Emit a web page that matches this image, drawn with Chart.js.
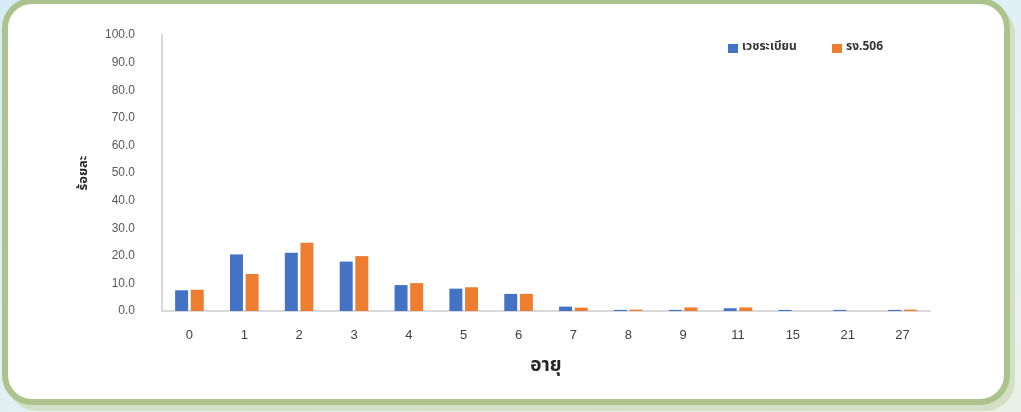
<!DOCTYPE html>
<html>
<head>
<meta charset="utf-8">
<script src="https://cdn.jsdelivr.net/npm/chart.js@4/dist/chart.umd.min.js"></script>
<style>
  html, body { margin: 0; padding: 0; }
  body {
    width: 1021px; height: 412px; overflow: hidden; position: relative;
    background: linear-gradient(160deg, #d6ecf6 0%, #e4f1f4 60%, #e9f1e6 100%);
  }
  .card {
    position: absolute; left: 2px; top: -2px; width: 996px; height: 395px;
    border: 6px solid #adc38d; border-radius: 30px; background: #fff;
    box-shadow: 5px 6px 0 #d3e0c6;
  }
  #chart { position: absolute; left: 0; top: 0; }
</style>
</head>
<body>
<div class="card"></div>
<canvas id="chart" width="1021" height="412"></canvas>
<script>
const ages = ['0', '1', '2', '3', '4', '5', '6', '7', '8', '9', '11', '15', '21', '27'];
const medicalRecords = [7.5, 20.5, 21.1, 17.9, 9.4, 8.1, 6.2, 1.6, 0.4, 0.4, 1.0, 0.4, 0.4, 0.4];
const report506 = [7.7, 13.4, 24.7, 19.9, 10.1, 8.6, 6.2, 1.2, 0.5, 1.3, 1.3, 0, 0, 0.5];
const seriesNames = ['เวชระเบียน', 'รง.506'];
const seriesColors = ['#4472c4', '#ed7d31'];

const thaiFont = "'Noto Sans Thai', 'Noto Sans', 'DejaVu Sans', sans-serif";

// small legend drawn inside the plot, top right
const insideLegend = {
  id: 'insideLegend',
  afterDraw(chart) {
    const ctx = chart.ctx;
    const area = chart.chartArea;
    let x = area.right - 202;
    const y = area.top + 13;
    ctx.save();
    ctx.font = "bold 12px " + thaiFont;
    ctx.textBaseline = 'middle';
    chart.data.datasets.forEach((ds) => {
      ctx.fillStyle = ds.backgroundColor;
      ctx.fillRect(x, y - 4, 10, 9);
      ctx.fillStyle = '#333';
      ctx.fillText(ds.label, x + 14, y);
      x += 104;
    });
    ctx.restore();
  }
};

new Chart(document.getElementById('chart'), {
  type: 'bar',
  data: {
    labels: ages,
    datasets: [
      { label: seriesNames[0], data: medicalRecords, backgroundColor: seriesColors[0] },
      { label: seriesNames[1], data: report506, backgroundColor: seriesColors[1] }
    ]
  },
  options: {
    responsive: false,
    animation: false,
    events: [],
    layout: { padding: { left: 72, top: 35, right: 91, bottom: 28 } },
    datasets: { bar: { categoryPercentage: 0.57, barPercentage: 0.83 } },
    plugins: {
      legend: { display: false },
      tooltip: { enabled: false }
    },
    scales: {
      x: {
        grid: { display: false, drawTicks: false },
        border: { color: '#d9d9d9', width: 2 },
        ticks: { color: '#404040', padding: 17, font: { size: 13, family: 'Liberation Sans, Arial, sans-serif' } },
        title: { display: true, text: 'อายุ', color: '#262626', padding: { top: 0, bottom: 5 }, font: { size: 19, weight: 'bold', family: thaiFont } },
        afterFit(scale) { scale.height = 73; }
      },
      y: {
        min: 0,
        max: 100,
        grid: { display: false, drawTicks: false },
        border: { color: '#d9d9d9', width: 2 },
        ticks: {
          stepSize: 10,
          padding: 27,
          color: '#595959',
          font: { size: 12, family: 'Liberation Sans, Arial, sans-serif' },
          callback: (v) => v.toFixed(1)
        },
        title: { display: true, text: 'ร้อยละ', color: '#262626', padding: { top: 5, bottom: 0 }, font: { size: 13, weight: 'bold', family: thaiFont } },
        afterFit(scale) { scale.width = 90; }
      }
    }
  },
  plugins: [insideLegend]
});
</script>
</body>
</html>
